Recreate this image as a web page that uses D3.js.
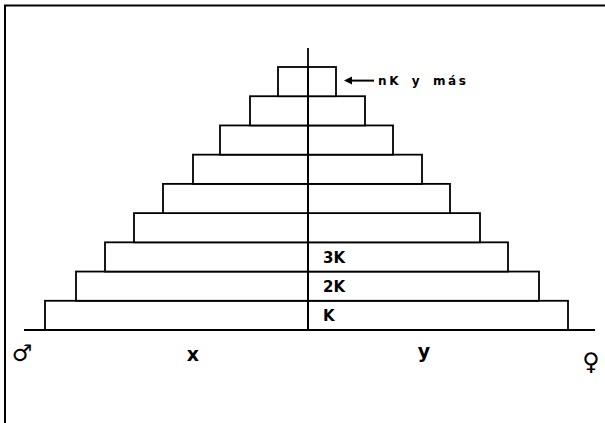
<!DOCTYPE html>
<head>
  <meta charset="utf-8" />
  <title>Pirámide</title>
  <script src="https://d3js.org/d3.v7.min.js"></script>
  <style>
    body { margin: 0; background: #fff; }
    svg text { font-family: "DejaVu Sans", sans-serif; font-weight: bold; fill: #000; }
  </style>
</head>
<body>
  <div id="chart"></div>
  <script>
    // age classes from bottom to top
    var classes = ["K", "2K", "3K", "4K", "5K", "6K", "7K", "8K", "nK"];
    var males = [263, 232, 203, 174, 145, 115, 88, 58, 30];
    var females = [260, 231, 200, 172, 142, 114, 85, 57, 28];
    var shownLabels = ["K", "2K", "3K"];

    var width = 605, height = 423;
    var cx = 308, base = 330;

    var svg = d3.select("#chart").append("svg")
      .attr("width", width)
      .attr("height", height);

    // frame (only top and left survive in the scan)
    svg.append("path")
      .attr("d", "M5,423V5.5H605")
      .attr("fill", "none")
      .attr("stroke", "#000")
      .attr("stroke-width", 2);

    var xL = d3.scaleLinear().domain([0, 290]).range([cx, cx - 290]);
    var xR = d3.scaleLinear().domain([0, 290]).range([cx, cx + 290]);
    var y = d3.scaleBand().domain(classes).range([base, 67]);

    var rows = classes.map(function (c, i) {
      return { cls: c, m: males[i], f: females[i] };
    });

    var g = svg.append("g")
      .attr("fill", "#fff")
      .attr("stroke", "#000")
      .attr("stroke-width", 1.8);

    g.selectAll("rect.m").data(rows).enter().append("rect")
      .attr("class", "m")
      .attr("x", (d) => xL(d.m))
      .attr("y", (d) => y(d.cls))
      .attr("width", (d) => xL(0) - xL(d.m))
      .attr("height", y.bandwidth());

    g.selectAll("rect.f").data(rows).enter().append("rect")
      .attr("class", "f")
      .attr("x", cx)
      .attr("y", (d) => y(d.cls))
      .attr("width", (d) => xR(d.f) - cx)
      .attr("height", y.bandwidth());

    // base line and centre axis
    svg.append("line")
      .attr("x1", 24).attr("x2", 595)
      .attr("y1", base).attr("y2", base)
      .attr("stroke", "#000").attr("stroke-width", 1.8);
    svg.append("line")
      .attr("x1", cx).attr("x2", cx)
      .attr("y1", 48).attr("y2", base)
      .attr("stroke", "#000").attr("stroke-width", 1.8);

    // class labels
    svg.selectAll("text.cls").data(rows.filter((d) => shownLabels.includes(d.cls)))
      .enter().append("text")
      .attr("class", "cls")
      .attr("x", cx + 15)
      .attr("y", (d) => y(d.cls) + y.bandwidth() / 2 + 6)
      .style("font-size", "15px")
      .text((d) => d.cls);

    // arrow to top class
    var topRow = rows[rows.length - 1];
    var ay = y(topRow.cls) + y.bandwidth() / 2 - 1;
    var ax = xR(topRow.f) + 8;
    svg.append("line")
      .attr("x1", ax + 6).attr("x2", ax + 30)
      .attr("y1", ay).attr("y2", ay)
      .attr("stroke", "#000").attr("stroke-width", 2);
    svg.append("path")
      .attr("d", `M${ax},${ay}L${ax + 8},${ay - 4}L${ax + 8},${ay + 4}Z`)
      .attr("fill", "#000");
    svg.append("text")
      .attr("x", ax + 34)
      .attr("y", ay + 4)
      .style("font-size", "12px")
      .style("letter-spacing", "2.6px")
      .style("word-spacing", "4px")
      .text("nK y más");

    // axis names and sex symbols
    svg.append("text").attr("x", 193).attr("y", 361)
      .attr("text-anchor", "middle").style("font-size", "19px").text("x");
    svg.append("text").attr("x", 424).attr("y", 358)
      .attr("text-anchor", "middle").style("font-size", "19px").text("y");
    svg.append("text").attr("x", 22).attr("y", 361)
      .attr("text-anchor", "middle").style("font-size", "23px")
      .style("font-weight", "normal").text("♂");
    svg.append("text").attr("x", 591).attr("y", 370)
      .attr("text-anchor", "middle").style("font-size", "24px")
      .style("font-weight", "normal").text("♀");
  </script>
</body>
